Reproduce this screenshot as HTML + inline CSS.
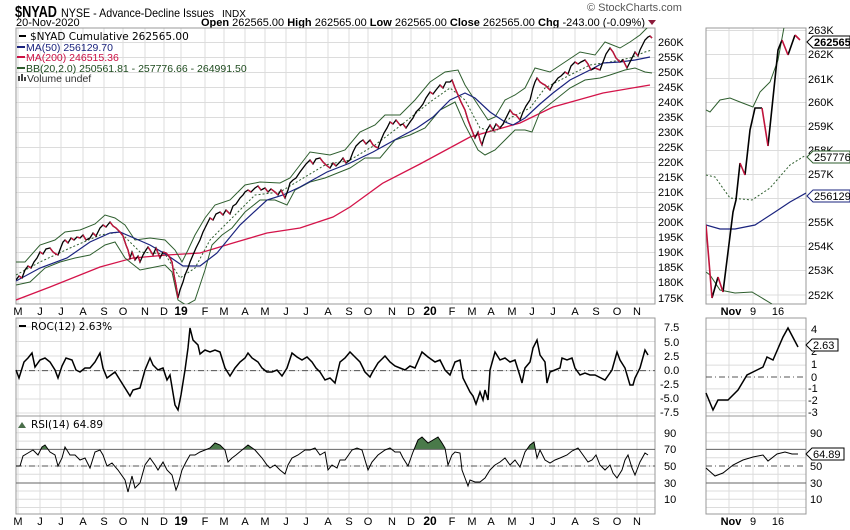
<!DOCTYPE html>
<html><head><meta charset="utf-8"><style>
body{margin:0;background:#fff;}
svg{display:block;font-family:"Liberation Sans",sans-serif;}
.t{font-size:11px;fill:#000}
.g{stroke:#dcdcdc;stroke-width:1}
</style></head><body>
<svg width="850" height="530" viewBox="0 0 850 530" xmlns="http://www.w3.org/2000/svg">
<defs>
<clipPath id="cm"><rect x="16" y="28" width="639" height="276"/></clipPath>
<clipPath id="cm2"><rect x="706" y="28" width="100" height="276"/></clipPath>
<clipPath id="rsiU"><path d="M16 514 L16 466 L20 466 L23 456 L28 453 L33 450 L38 455 L42 447 L45 445 L50 452 L55 455 L58 466 L62 458 L65 447 L70 455 L75 455 L80 460 L85 458 L90 468 L95 452 L100 450 L103 455 L107 466 L112 463 L118 470 L125 480 L128 492 L132 476 L135 488 L140 483 L145 465 L150 458 L155 465 L158 470 L163 462 L167 470 L172 475 L176 490 L178 485 L182 470 L186 462 L190 455 L195 455 L200 452 L205 450 L210 448 L215 443 L220 445 L225 450 L228 462 L232 458 L236 455 L242 450 L248 445 L255 450 L262 458 L267 465 L270 468 L275 465 L280 470 L285 474 L288 465 L292 458 L298 455 L305 450 L310 450 L315 448 L320 455 L325 452 L328 470 L332 465 L337 468 L340 460 L345 460 L352 450 L357 448 L362 450 L368 470 L372 462 L378 455 L385 450 L390 448 L395 452 L400 452 L403 458 L408 466 L413 452 L418 440 L422 437 L428 443 L433 440 L438 437 L442 443 L445 448 L448 465 L452 455 L455 452 L460 453 L462 470 L465 478 L468 486 L470 480 L475 482 L480 482 L485 478 L490 470 L495 465 L500 462 L505 458 L510 465 L515 460 L520 467 L525 452 L530 445 L534 442 L537 458 L540 450 L545 460 L550 463 L555 460 L560 458 L567 455 L572 451 L578 448 L583 455 L588 462 L592 460 L596 455 L600 465 L605 470 L610 465 L613 473 L617 478 L622 470 L625 460 L628 455 L632 468 L635 475 L640 462 L645 453 L648 455 L648 514 Z"/></clipPath>
</defs>

<g class="g">
<path d="M16 42.5H655M16 57.5H655M16 72.5H655M16 87.5H655M16 102.5H655M16 117.5H655M16 132.5H655M16 147.5H655M16 162.5H655M16 177.5H655M16 192.5H655M16 207.5H655M16 222.5H655M16 237.5H655M16 252.5H655M16 267.5H655M16 282.5H655M16 298H655"/>
<path d="M16 327H655M16 341.5H655M16 356H655M16 370.6H655M16 384.8H655M16 399H655M16 413H655"/>
<path d="M16 432.8H655M16 441.1H655M16 457.7H655M16 466H655M16 474.3H655M16 491H655M16 499.2H655M16 507.5H655"/>
<path d="M18 28V304M40 28V304M61 28V304M83 28V304M104 28V304M123 28V304M145 28V304M164 28V304M181 28V304M205 28V304M224 28V304M245 28V304M265 28V304M286 28V304M306 28V304M328 28V304M349 28V304M368 28V304M392 28V304M411 28V304M430 28V304M452 28V304M472 28V304M491 28V304M512 28V304M532 28V304M553 28V304M575 28V304M596 28V304M617 28V304M637 28V304"/>
<path d="M18 318V514M40 318V514M61 318V514M83 318V514M104 318V514M123 318V514M145 318V514M164 318V514M181 318V514M205 318V514M224 318V514M245 318V514M265 318V514M286 318V514M306 318V514M328 318V514M349 318V514M368 318V514M392 318V514M411 318V514M430 318V514M452 318V514M472 318V514M491 318V514M512 318V514M532 318V514M553 318V514M575 318V514M596 318V514M617 318V514M637 318V514"/>
<path d="M729 28V304M753 28V304M778 28V304M729 318V514M753 318V514M778 318V514"/>
<path d="M706 30.5H806M706 54.5H806M706 78.5H806M706 102.5H806M706 126.5H806M706 150.5H806M706 174.5H806M706 198.5H806M706 222.5H806M706 246.5H806M706 270.5H806M706 295H806"/>
<path d="M706 329.4H806M706 341.3H806M706 353.2H806M706 365.1H806M706 388.9H806M706 400.8H806M706 412.7H806"/>
<path d="M706 432.8H806M706 441.1H806M706 449.4H806M706 457.7H806M706 474.3H806M706 491H806M706 499.2H806M706 507.5H806"/>
</g>

<text x="15" y="17" textLength="42" lengthAdjust="spacingAndGlyphs" style="font-size:16px;font-weight:bold">$NYAD</text>
<text x="61" y="17" textLength="153" lengthAdjust="spacingAndGlyphs" style="font-size:12px">NYSE - Advance-Decline Issues</text>
<text x="222" y="17" style="font-size:10px">INDX</text>
<text x="16" y="26" class="t">20-Nov-2020</text>
<text x="645" y="26" text-anchor="end" class="t"><tspan font-weight="bold">Open</tspan> 262565.00 <tspan font-weight="bold">High</tspan> 262565.00 <tspan font-weight="bold">Low</tspan> 262565.00 <tspan font-weight="bold">Close</tspan> 262565.00 <tspan font-weight="bold">Chg</tspan> -243.00 (-0.09%)</text>
<path d="M648 20 L656 20 L652 25 Z" fill="#8b1a3a"/>
<text x="587" y="11" style="font-size:11px;fill:#555">© StockCharts.com</text>

<g fill="none" stroke="#999">
<rect x="16" y="28" width="639" height="276"/>
<rect x="16" y="318" width="639" height="98"/>
<rect x="16" y="416" width="639" height="98"/>
<rect x="706" y="28" width="100" height="276"/>
<rect x="706" y="318" width="100" height="98"/>
<rect x="706" y="416" width="100" height="98"/>
</g>

<g fill="none" clip-path="url(#cm)">
<path stroke="#d4144a" stroke-width="1.3" d="M16 300 L50 287 L100 267 L133 258 L167 255 L200 253 L233 243 L267 233 L300 228 L333 217 L350 207 L383 183 L420 164 L470 137 L520 123 L553 107 L603 93 L650 85"/>
<path stroke="#2e5e2e" stroke-width="1" d="M16 262 L25 262 L40 245 L55 240 L65 232 L80 230 L95 224 L105 215 L115 218 L125 225 L135 240 L150 238 L165 240 L175 250 L182 262 L188 250 L195 235 L205 218 L215 205 L230 200 L245 185 L260 182 L280 183 L290 178 L300 165 L310 152 L330 155 L345 150 L360 132 L375 125 L385 115 L400 115 L415 100 L430 82 L445 72 L458 70 L465 85 L478 105 L488 120 L495 117 L505 100 L515 95 L525 88 L535 68 L550 72 L565 62 L580 52 L595 55 L605 42 L620 48 L630 42 L640 35 L650 25"/>
<path stroke="#2e5e2e" stroke-width="1" d="M16 285 L30 282 L45 268 L60 262 L75 258 L90 255 L105 245 L115 242 L125 258 L140 270 L150 268 L165 265 L172 272 L178 300 L186 305 L195 300 L205 270 L212 245 L222 235 L232 228 L245 212 L260 200 L275 200 L287 205 L295 190 L310 182 L325 178 L340 172 L350 168 L365 158 L380 158 L395 140 L410 135 L425 128 L440 110 L455 102 L465 125 L478 150 L485 155 L495 150 L505 140 L515 130 L525 130 L532 132 L540 112 L555 100 L570 88 L585 80 L600 78 L610 75 L625 70 L635 68 L645 72 L652 73"/>
<path stroke="#2e5e2e" stroke-width="1" stroke-dasharray="2,2" d="M16 275 L40 262 L70 248 L100 235 L120 232 L140 252 L165 254 L180 278 L195 268 L210 240 L230 220 L255 195 L280 192 L300 180 L325 165 L350 160 L375 145 L400 126 L430 102 L450 88 L465 100 L480 128 L495 132 L510 118 L530 108 L545 88 L570 75 L590 65 L610 62 L630 58 L645 52 L652 50"/>
<path stroke="#1a237e" stroke-width="1.2" d="M16 281 L40 268 L67 258 L90 242 L110 233 L120 232 L150 245 L167 255 L183 266 L200 266 L217 253 L240 225 L267 200 L283 195 L300 187 L327 172 L350 163 L373 152 L400 137 L417 128 L433 117 L450 100 L465 93 L475 98 L490 112 L505 122 L513 125 L525 118 L540 104 L553 93 L570 80 L590 70 L603 63 L620 62 L635 60 L650 57"/>
<path stroke="#000" stroke-width="1.3" d="M16 280 L19 276 L22 278 L25 270 L28 266 L31 268 L34 262 L37 258 L40 252 L43 254 L46 249 L50 248 L53 252 L56 254 L58 255 L61 247 L63 242 L65 240 L68 243 L71 238 L74 240 L77 237 L80 238 L83 235 L86 240 L90 238 L93 233 L96 236 L100 228 L103 225 L106 227 L110 222 L113 226 L116 228 L120 232 L123 236 L126 245 L128 250 L130 258 L132 252 L135 260 L138 256 L140 262 L143 255 L146 250 L148 247 L150 250 L153 255 L156 248 L160 258 L163 252 L166 253 L168 255 L170 258 L172 262 L174 275 L176 285 L178 298 L180 290 L183 282 L185 275 L188 268 L190 262 L193 255 L196 248 L200 240 L203 232 L206 226 L210 218 L213 220 L216 214 L220 212 L223 215 L226 210 L230 214 L233 206 L236 204 L240 198 L243 195 L245 192 L248 190 L251 192 L255 188 L258 186 L261 190 L265 188 L268 192 L271 189 L275 192 L278 195 L281 190 L285 198 L288 190 L290 183 L293 180 L296 178 L300 172 L303 168 L306 164 L310 160 L313 164 L316 159 L320 158 L323 162 L326 165 L330 168 L333 163 L336 166 L340 162 L343 158 L346 163 L350 160 L353 152 L356 146 L360 142 L363 140 L366 144 L370 140 L373 145 L376 147 L378 148 L381 140 L384 133 L387 128 L390 122 L393 124 L396 120 L400 125 L403 124 L406 128 L410 122 L413 118 L416 112 L420 108 L423 104 L426 98 L430 92 L433 94 L436 90 L440 85 L443 88 L446 82 L450 82 L452 80 L455 88 L458 95 L461 102 L465 110 L468 120 L471 128 L475 138 L478 132 L480 140 L482 145 L484 138 L487 130 L490 125 L493 130 L496 124 L500 128 L503 124 L506 118 L510 110 L513 114 L516 115 L520 120 L523 112 L526 106 L530 100 L533 88 L535 82 L537 78 L540 82 L543 84 L545 85 L548 88 L550 90 L553 84 L555 82 L558 78 L561 76 L565 72 L568 74 L571 66 L575 62 L578 64 L581 62 L585 60 L588 64 L591 70 L595 68 L600 70 L603 62 L606 54 L610 48 L613 52 L616 58 L620 62 L623 60 L627 68 L630 62 L633 56 L635 52 L638 56 L640 50 L643 44 L645 40 L648 37 L650 36 L652 38"/>
<path stroke="#c0143c" stroke-width="1.4" d="M19 276L22 278M28 266L31 268M40 252L43 254M50 248L53 252L56 254L58 255M65 240L68 243M71 238L74 240M77 237L80 238M83 235L86 240M93 233L96 236M103 225L106 227M110 222L113 226L116 228L120 232L123 236L126 245L128 250L130 258M132 252L135 260M138 256L140 262M148 247L150 250L153 255M156 248L160 258M163 252L166 253L168 255L170 258L172 262L174 275L176 285L178 298M210 218L213 220M220 212L223 215M226 210L230 214M248 190L251 192M258 186L261 190M265 188L268 192M271 189L275 192L278 195M281 190L285 198M310 160L313 164M320 158L323 162L326 165L330 168M333 163L336 166M343 158L346 163M363 140L366 144M370 140L373 145L376 147L378 148M390 122L393 124M396 120L400 125M403 124L406 128M430 92L433 94M440 85L443 88M452 80L455 88L458 95L461 102L465 110L468 120L471 128L475 138M478 132L480 140L482 145M490 125L493 130M496 124L500 128M510 110L513 114L516 115L520 120M537 78L540 82L543 84L545 85L548 88L550 90M565 72L568 74M575 62L578 64M585 60L588 64L591 70M595 68L600 70M610 48L613 52L616 58L620 62M623 60L627 68M635 52L638 56M650 36L652 38"/>
</g>

<line x1="16" x2="655" y1="370.6" y2="370.6" stroke="#555" stroke-dasharray="6,3,1,3"/>
<path fill="none" stroke="#000" stroke-width="1.5" d="M16 370 L19 378 L24 362 L28 358 L32 353 L35 367 L40 360 L45 358 L50 362 L55 370 L58 378 L62 366 L66 358 L72 360 L76 370 L80 372 L85 368 L90 368 L95 362 L100 353 L103 368 L107 378 L115 372 L120 380 L125 388 L130 396 L133 390 L140 388 L145 370 L150 358 L153 365 L158 370 L163 368 L167 380 L170 375 L175 405 L178 410 L181 395 L185 370 L188 348 L190 328 L193 340 L198 345 L200 354 L205 350 L210 352 L215 350 L220 352 L225 368 L230 376 L235 368 L240 362 L245 358 L248 353 L252 358 L258 362 L262 368 L267 372 L272 372 L277 370 L282 376 L287 368 L292 353 L297 357 L302 360 L307 357 L312 362 L316 368 L320 372 L325 380 L330 378 L335 383 L340 362 L345 358 L350 352 L355 357 L360 362 L365 372 L370 377 L372 373 L378 363 L385 356 L390 362 L395 366 L400 368 L405 370 L410 366 L415 368 L422 352 L428 357 L435 362 L440 360 L445 370 L450 375 L455 362 L460 360 L463 378 L470 392 L473 396 L476 404 L480 392 L483 400 L485 390 L488 400 L490 370 L495 352 L500 360 L505 358 L510 362 L515 360 L520 376 L522 383 L525 368 L530 362 L533 348 L537 340 L540 355 L545 362 L547 383 L550 372 L555 370 L560 368 L562 358 L567 360 L572 358 L575 368 L580 375 L585 373 L590 375 L595 375 L605 380 L612 370 L617 352 L620 360 L625 368 L630 385 L633 385 L635 378 L640 368 L645 350 L648 355"/>

<rect x="16" y="416" width="639" height="33.4" fill="#4a7a4a" clip-path="url(#rsiU)"/>
<line x1="16" x2="655" y1="449.4" y2="449.4" stroke="#666"/>
<line x1="16" x2="655" y1="483" y2="483" stroke="#666"/>
<line x1="16" x2="655" y1="466" y2="466" stroke="#555" stroke-dasharray="6,3,1,3"/>
<path fill="none" stroke="#000" stroke-width="1" d="M16 466 L20 466 L23 456 L28 453 L33 450 L38 455 L42 447 L45 445 L50 452 L55 455 L58 466 L62 458 L65 447 L70 455 L75 455 L80 460 L85 458 L90 468 L95 452 L100 450 L103 455 L107 466 L112 463 L118 470 L125 480 L128 492 L132 476 L135 488 L140 483 L145 465 L150 458 L155 465 L158 470 L163 462 L167 470 L172 475 L176 490 L178 485 L182 470 L186 462 L190 455 L195 455 L200 452 L205 450 L210 448 L215 443 L220 445 L225 450 L228 462 L232 458 L236 455 L242 450 L248 445 L255 450 L262 458 L267 465 L270 468 L275 465 L280 470 L285 474 L288 465 L292 458 L298 455 L305 450 L310 450 L315 448 L320 455 L325 452 L328 470 L332 465 L337 468 L340 460 L345 460 L352 450 L357 448 L362 450 L368 470 L372 462 L378 455 L385 450 L390 448 L395 452 L400 452 L403 458 L408 466 L413 452 L418 440 L422 437 L428 443 L433 440 L438 437 L442 443 L445 448 L448 465 L452 455 L455 452 L460 453 L462 470 L465 478 L468 486 L470 480 L475 482 L480 482 L485 478 L490 470 L495 465 L500 462 L505 458 L510 465 L515 460 L520 467 L525 452 L530 445 L534 442 L537 458 L540 450 L545 460 L550 463 L555 460 L560 458 L567 455 L572 451 L578 448 L583 455 L588 462 L592 460 L596 455 L600 465 L605 470 L610 465 L613 473 L617 478 L622 470 L625 460 L628 455 L632 468 L635 475 L640 462 L645 453 L648 455"/>

<g fill="none" clip-path="url(#cm2)">
<path stroke="#2e5e2e" d="M706 110 L710 112 L720 100 L730 98 L740 102 L753 107 L760 92 L770 82 L778 60 L785 22"/>
<path stroke="#2e5e2e" d="M706 272 L710 275 L720 290 L735 293 L752 292 L772 304"/>
<path stroke="#2e5e2e" stroke-dasharray="2,2" d="M706 175 L715 177 L730 198 L752 200 L770 188 L790 165 L806 155"/>
<path stroke="#1a237e" stroke-width="1.2" d="M706 225 L720 229 L735 229 L755 225 L775 212 L790 202 L806 193"/>
<path stroke="#000" stroke-width="1.6" d="M712 298 L718 277 M723 292 L733 212 L736 200 L740 163 M745 175 L750 130 L755 108 L762 108 M768 146 L778 50 L782 40 M788 55 L795 35"/>
<path stroke="#c0143c" stroke-width="1.6" d="M706 225 L712 298 M718 277 L723 292 M740 163 L745 175 M762 108 L768 146 M782 40 L788 55 M795 35 L800 40"/>
</g>
<line x1="706" x2="806" y1="377" y2="377" stroke="#555" stroke-dasharray="6,3,1,3"/>
<path fill="none" stroke="#000" stroke-width="1.5" d="M706 393 L713 410 L718 400 L728 400 L738 390 L747 375 L757 370 L763 367 L767 357 L773 360 L783 337 L788 328 L798 347"/>
<line x1="706" x2="806" y1="449.4" y2="449.4" stroke="#666"/>
<line x1="706" x2="806" y1="483" y2="483" stroke="#666"/>
<line x1="706" x2="806" y1="466" y2="466" stroke="#555" stroke-dasharray="6,3,1,3"/>
<path fill="none" stroke="#000" d="M706 468 L715 476 L723 473 L733 465 L743 460 L753 457 L763 455 L768 461 L777 454 L785 452 L792 454 L798 454"/>

<g style="font-size:10.5px">
<line x1="19" y1="36" x2="26" y2="36" stroke="#000" stroke-width="2"/><text x="30" y="40" style="font-family:'DejaVu Sans',sans-serif;font-size:10.5px">$NYAD Cumulative 262565.00</text>
<line x1="17" y1="47" x2="25" y2="47" stroke="#1a237e" stroke-width="2"/><text x="26" y="51" fill="#1a237e">MA(50) 256129.70</text>
<line x1="17" y1="57" x2="25" y2="57" stroke="#cc1144" stroke-width="2"/><text x="26" y="61" fill="#cc1144">MA(200) 246515.36</text>
<line x1="17" y1="68" x2="25" y2="68" stroke="#2e5e2e" stroke-width="2"/><text x="26" y="72" fill="#1d4a1d">BB(20,2.0) 250561.81 - 257776.66 - 264991.50</text>
<rect x="18" y="76" width="2" height="5" fill="#444"/><rect x="21" y="74" width="2" height="7" fill="#444"/><rect x="24" y="77" width="2" height="4" fill="#444"/><text x="27" y="82" fill="#333">Volume undef</text>
<line x1="19" y1="326" x2="26" y2="326" stroke="#000" stroke-width="2"/><text x="31" y="330" style="font-family:'DejaVu Sans',sans-serif;font-size:10.5px">ROC(12) 2.63%</text>
<path d="M18 428 L22 422 L26 428 Z" fill="#4a6e4a"/><text x="31" y="428" style="font-family:'DejaVu Sans',sans-serif;font-size:10.5px">RSI(14) 64.89</text>
</g>

<g class="t">
<text x="658" y="46">260K</text><text x="658" y="61">255K</text><text x="658" y="76">250K</text><text x="658" y="91">245K</text><text x="658" y="106">240K</text><text x="658" y="121">235K</text><text x="658" y="136">230K</text><text x="658" y="151">225K</text><text x="658" y="166">220K</text><text x="658" y="181">215K</text><text x="658" y="196">210K</text><text x="658" y="211">205K</text><text x="658" y="226">200K</text><text x="658" y="241">195K</text><text x="658" y="256">190K</text><text x="658" y="271">185K</text><text x="658" y="286">180K</text><text x="658" y="302">175K</text>
<text x="664" y="331">7.5</text><text x="664" y="346">5.0</text><text x="664" y="360">2.5</text><text x="664" y="374">0.0</text><text x="660" y="388">-2.5</text><text x="660" y="402">-5.0</text><text x="660" y="416">-7.5</text>
<text x="664" y="437">90</text><text x="664" y="453">70</text><text x="664" y="470">50</text><text x="664" y="487">30</text><text x="664" y="503">10</text>
<text x="808" y="34">263K</text><text x="808" y="58">262K</text><text x="808" y="83">261K</text><text x="808" y="106">260K</text><text x="808" y="130">259K</text><text x="808" y="154">258K</text><text x="808" y="178">257K</text><text x="808" y="226">255K</text><text x="808" y="250">254K</text><text x="808" y="274">253K</text><text x="808" y="299">252K</text>
<text x="811" y="333">4</text><text x="811" y="355">2</text><text x="811" y="368">1</text><text x="811" y="381">0</text><text x="808" y="392">-1</text><text x="808" y="404">-2</text><text x="808" y="416">-3</text>
<text x="810" y="437">90</text><text x="810" y="470">50</text><text x="810" y="487">30</text><text x="810" y="503">10</text>
</g>

<g font-size="11">
<path d="M807 42 L813 36 L850 36 L850 48 L813 48 Z" fill="#fff" stroke="#000"/><text x="814" y="46" font-weight="bold">262565.0</text>
<path d="M807 157 L813 151 L850 151 L850 163 L813 163 Z" fill="#fff" stroke="#2e5e2e"/><text x="814" y="161">257776.6</text>
<path d="M807 196 L813 190 L850 190 L850 202 L813 202 Z" fill="#fff" stroke="#1a237e"/><text x="814" y="200">256129.7</text>
<path d="M806 345 L812 339 L838 339 L838 351 L812 351 Z" fill="#fff" stroke="#000"/><text x="813" y="349">2.63</text>
<path d="M806 454 L812 448 L844 448 L844 460 L812 460 Z" fill="#fff" stroke="#000"/><text x="813" y="458">64.89</text>
</g>

<g class="t" text-anchor="middle">
<text x="18" y="315">M</text><text x="40" y="315">J</text><text x="61" y="315">J</text><text x="83" y="315">A</text><text x="104" y="315">S</text><text x="123" y="315">O</text><text x="145" y="315">N</text><text x="164" y="315">D</text><text x="181" y="315" font-weight="bold" font-size="12">19</text><text x="205" y="315">F</text><text x="224" y="315">M</text><text x="245" y="315">A</text><text x="265" y="315">M</text><text x="286" y="315">J</text><text x="306" y="315">J</text><text x="328" y="315">A</text><text x="349" y="315">S</text><text x="368" y="315">O</text><text x="392" y="315">N</text><text x="411" y="315">D</text><text x="430" y="315" font-weight="bold" font-size="12">20</text><text x="452" y="315">F</text><text x="472" y="315">M</text><text x="491" y="315">A</text><text x="512" y="315">M</text><text x="532" y="315">J</text><text x="553" y="315">J</text><text x="575" y="315">A</text><text x="596" y="315">S</text><text x="617" y="315">O</text><text x="637" y="315">N</text>
<text x="18" y="525">M</text><text x="40" y="525">J</text><text x="61" y="525">J</text><text x="83" y="525">A</text><text x="104" y="525">S</text><text x="123" y="525">O</text><text x="145" y="525">N</text><text x="164" y="525">D</text><text x="181" y="525" font-weight="bold" font-size="12">19</text><text x="205" y="525">F</text><text x="224" y="525">M</text><text x="245" y="525">A</text><text x="265" y="525">M</text><text x="286" y="525">J</text><text x="306" y="525">J</text><text x="328" y="525">A</text><text x="349" y="525">S</text><text x="368" y="525">O</text><text x="392" y="525">N</text><text x="411" y="525">D</text><text x="430" y="525" font-weight="bold" font-size="12">20</text><text x="452" y="525">F</text><text x="472" y="525">M</text><text x="491" y="525">A</text><text x="512" y="525">M</text><text x="532" y="525">J</text><text x="553" y="525">J</text><text x="575" y="525">A</text><text x="596" y="525">S</text><text x="617" y="525">O</text><text x="637" y="525">N</text>
<text x="731" y="315" font-weight="bold">Nov</text><text x="753" y="315">9</text><text x="778" y="315">16</text>
<text x="731" y="525" font-weight="bold">Nov</text><text x="753" y="525">9</text><text x="778" y="525">16</text>
</g>
</svg>
</body></html>
